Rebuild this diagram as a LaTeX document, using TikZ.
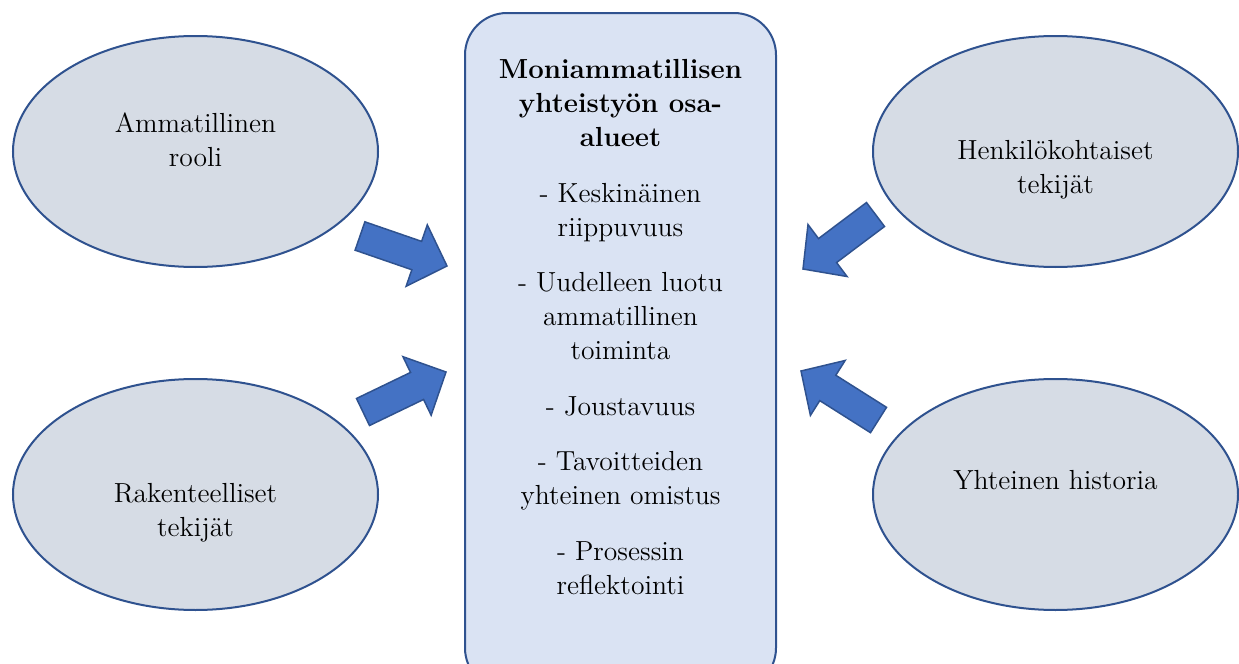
\documentclass[tikz,border=0pt]{standalone}
\usepackage{tikz}
\usetikzlibrary{calc}
\usepgflibrary{shapes.geometric}
\definecolor{reuna}{HTML}{2F528F}
\definecolor{harmaa}{HTML}{D6DCE5}
\definecolor{vaalea}{HTML}{DAE3F3}
\definecolor{sininen}{HTML}{4472C4}

\begin{document}
\begin{tikzpicture}[x=0.5pt, y=-0.5pt,
  pallo/.style={ellipse, draw=reuna, fill=harmaa, line width=1pt,
    minimum width=182.5pt, minimum height=115.5pt},
  laatikko/.style={rectangle, rounded corners=21pt, draw=reuna, fill=vaalea,
    line width=1pt, minimum width=155.5pt, minimum height=338.5pt},
  teksti/.style={font=\fontsize{13.8}{17}\selectfont, align=center,
    inner sep=0pt, anchor=north},
  nuoli/.style={fill=sininen, draw=reuna, line width=0.75pt}]
 \useasboundingbox (0,0) rectangle (1239,664);

 % Keskilaatikko
 \node[laatikko] (osat) at (620.5,351.5) {};
 \node[teksti] (osat-t) at (620.5,59)
  {\textbf{Moniammatillisen}\\ \textbf{yhteistyön osa-}\\ \textbf{alueet}\\[10.75pt]
   - Keskinäinen\\ riippuvuus\\[10.75pt]
   - Uudelleen luotu\\ ammatillinen\\ toiminta\\[10.75pt]
   - Joustavuus\\[10.75pt]
   - Tavoitteiden\\ yhteinen omistus\\[10.75pt]
   - Prosessin\\ reflektointi};

 % Ellipsit
 \node[pallo] (rooli)    at (195.5,151.5)  {};
 \node[pallo] (rakenne)  at (195.5,494.5)  {};
 \node[pallo] (henkilo)  at (1055.5,151.5) {};
 \node[pallo] (historia) at (1055.5,494.5) {};

 \node[teksti] (rooli-t)    at (195.5,112)  {Ammatillinen\\ rooli};
 \node[teksti] (rakenne-t)  at (195.5,483)  {Rakenteelliset\\ tekijät};
 \node[teksti] (henkilo-t)  at (1055.5,140) {Henkilökohtaiset\\ tekijät};
 \node[teksti] (historia-t) at (1055.5,470) {Yhteinen historia};

 % Nuolet
 \coordinate (a1) at (360,236);   \coordinate (b1) at (447,266);
 \coordinate (a2) at (363,412);   \coordinate (b2) at (446,372);
 \coordinate (a3) at (875.5,214.5); \coordinate (b3) at (803,269);
 \coordinate (a4) at (878.5,420); \coordinate (b4) at (801,371);
 \foreach \s/\e in {a1/b1,a2/b2,a3/b3,a4/b4}{
  \coordinate (h) at ($(\s)!30pt!(\e)$);
  \filldraw[nuoli] ($(\s)!7.5pt!90:(\e)$) -- ($(h)!7.5pt!90:(\e)$)
   -- ($(h)!16.25pt!90:(\e)$) -- (\e) -- ($(h)!16.25pt!-90:(\e)$)
   -- ($(h)!7.5pt!-90:(\e)$) -- ($(\s)!7.5pt!-90:(\e)$) -- cycle;
 }
\end{tikzpicture}
\end{document}
